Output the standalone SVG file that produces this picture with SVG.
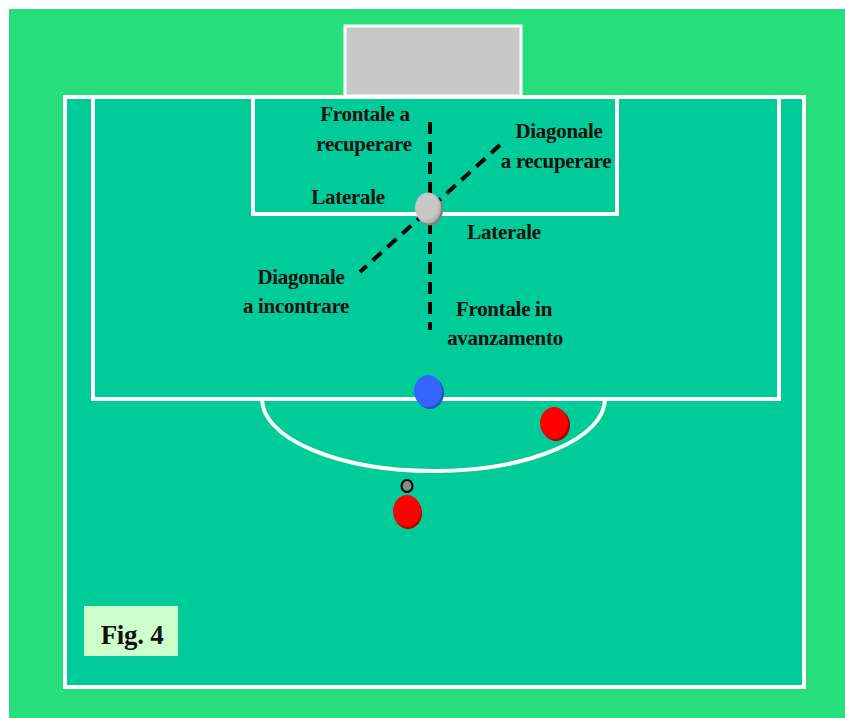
<svg xmlns="http://www.w3.org/2000/svg" width="845" height="718" viewBox="0 0 845 718">
  <style>
    .line { fill: none; stroke: #ffffff; stroke-width: 4; }
    .dash { fill: none; stroke: #000000; stroke-width: 4; stroke-dasharray: 12 8; }
    .lbl { font-family: "Liberation Serif", "Times New Roman", serif; font-weight: bold; font-size: 21px; fill: #111111; letter-spacing: -0.3px; }
  </style>
  <defs>
    <radialGradient id="shadeGray" cx="0.4" cy="0.4" r="0.6">
      <stop offset="0.75" stop-color="#c8c8c8"/>
      <stop offset="1" stop-color="#b0b0b0"/>
    </radialGradient>
  </defs>

  <!-- surround -->
  <rect x="9" y="9" width="836" height="709" fill="#26de7a"/>

  <!-- pitch -->
  <g id="pitch">
    <rect x="65" y="97" width="739" height="590" class="line" style="fill:#00cc99"/>
    <rect x="93" y="97" width="686" height="302" class="line"/>
    <rect x="253" y="97" width="364" height="117" class="line"/>
    <path d="M262 399 A171.5 72 0 0 0 605 399" class="line"/>
  </g>

  <!-- goal -->
  <g id="goal">
    <rect x="345" y="26" width="176" height="70" fill="#c8c8c8" stroke="#ffffff" stroke-width="3"/>
  </g>

  <!-- movement directions -->
  <g id="connectors">
    <line x1="430" y1="122" x2="430" y2="330" class="dash"/>
    <line x1="500" y1="145" x2="360" y2="272" class="dash"/>
  </g>

  <!-- ball at the centre of the directions -->
  <g id="ball">
    <ellipse cx="430" cy="210" rx="13" ry="15.5" fill="#808080"/>
    <ellipse cx="428" cy="208" rx="13" ry="15.5" fill="url(#shadeGray)"/>
  </g>

  <!-- players -->
  <g id="player-blue">
    <ellipse cx="430" cy="393" rx="14" ry="16" fill="#2a4fc0"/>
    <ellipse cx="428" cy="391" rx="14" ry="16" fill="#3366ff"/>
  </g>
  <g id="player-red-right">
    <ellipse cx="556" cy="425" rx="14" ry="16" fill="#b00000"/>
    <ellipse cx="554" cy="423" rx="14" ry="16" fill="#ff0000"/>
  </g>
  <g id="player-red-centre">
    <ellipse cx="408" cy="513" rx="14" ry="16" fill="#b00000"/>
    <ellipse cx="407" cy="511" rx="14" ry="16" fill="#ff0000"/>
  </g>
  <g id="small-ball">
    <ellipse cx="407" cy="486" rx="5.5" ry="6" fill="#888888" stroke="#000000" stroke-width="2"/>
  </g>

  <!-- labels -->
  <g id="label-frontale-recuperare">
    <text class="lbl" x="365" y="121" text-anchor="middle">Frontale a</text>
    <text class="lbl" x="364" y="151" text-anchor="middle">recuperare</text>
  </g>
  <g id="label-diagonale-recuperare">
    <text class="lbl" x="559" y="138" text-anchor="middle">Diagonale</text>
    <text class="lbl" x="556" y="168" text-anchor="middle">a recuperare</text>
  </g>
  <g id="label-laterale-left">
    <text class="lbl" x="348" y="204" text-anchor="middle">Laterale</text>
  </g>
  <g id="label-laterale-right">
    <text class="lbl" x="504" y="239" text-anchor="middle">Laterale</text>
  </g>
  <g id="label-diagonale-incontrare">
    <text class="lbl" x="301" y="284" text-anchor="middle">Diagonale</text>
    <text class="lbl" x="296" y="313" text-anchor="middle">a incontrare</text>
  </g>
  <g id="label-frontale-avanzamento">
    <text class="lbl" x="504" y="316" text-anchor="middle">Frontale in</text>
    <text class="lbl" x="505" y="345" text-anchor="middle">avanzamento</text>
  </g>

  <!-- figure tag -->
  <g id="fig-tag">
    <rect x="84" y="606" width="94" height="50" fill="#ccffcc"/>
    <text class="lbl" x="132" y="644" text-anchor="middle" style="font-size:27px">Fig. 4</text>
  </g>
</svg>
